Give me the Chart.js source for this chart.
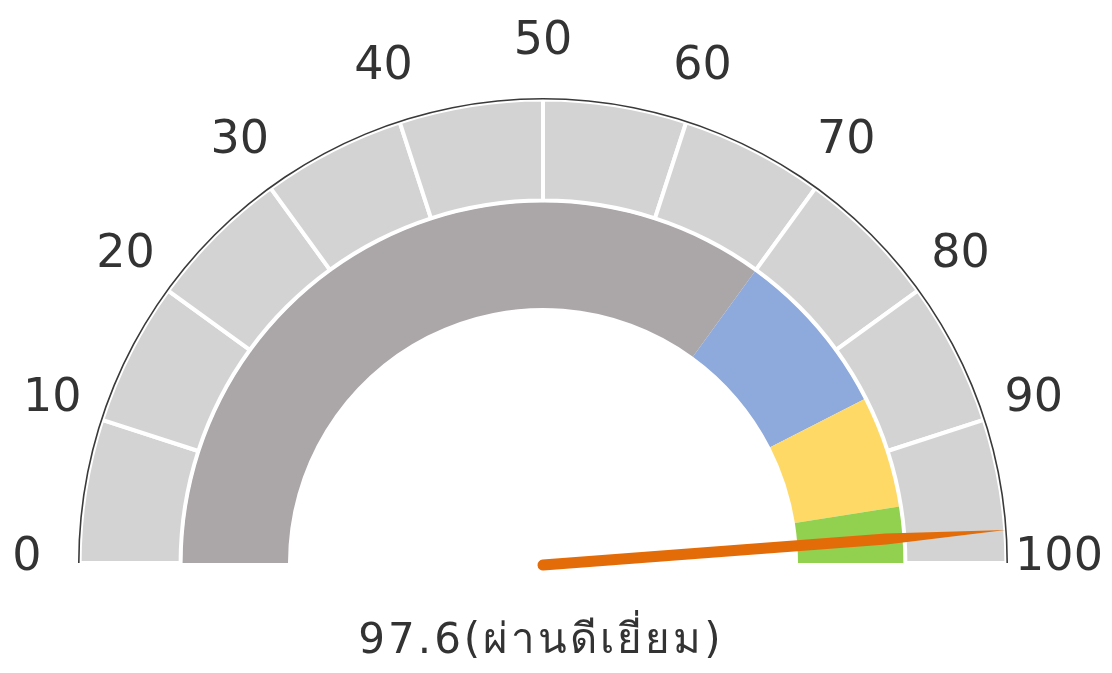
<!DOCTYPE html>
<html>
<head>
<meta charset="utf-8">
<script src="https://cdn.jsdelivr.net/npm/chart.js@4"></script>
<style>
  body { margin: 0; background: #fff; }
  #wrap { width: 1112px; height: 673px; position: relative; }
</style>
</head>
<body>
<div id="wrap"><canvas id="gauge"></canvas></div>
<script>
const tickLabels = ['0', '10', '20', '30', '40', '50', '60', '70', '80', '90', '100']
const scaleSteps = [10, 10, 10, 10, 10, 10, 10, 10, 10, 10]
const bandValues = [70, 15, 10, 5]
const bandColors = ['#ABA7A8', '#8EA9DB', '#FFD966', '#92D050']
const needleValue = 97.6
const maxValue = 100
const resultText = '97.6(ผ่านดีเยี่ยม)'

const textColor = '#333333'
const fontFamily = '"DejaVu Sans", "Noto Sans", sans-serif'

// value -> canvas angle (left = -PI, right = 0)
const toAngle = (v) => -Math.PI + (v / maxValue) * Math.PI

const gaugeExtras = {
    id: 'gaugeExtras',
    afterDatasetsDraw(chart) {
        const ctx = chart.ctx
        const arc = chart.getDatasetMeta(0).data[0]
        const cx = arc.x
        const cy = arc.y
        const outer = arc.outerRadius

        ctx.save()

        //etiquetas de la escala
        ctx.fillStyle = textColor
        ctx.font = '46px ' + fontFamily
        ctx.textAlign = 'center'
        ctx.textBaseline = 'alphabetic'
        const labelR = outer + 51
        tickLabels.forEach((lbl, i) => {
            const a = toAngle(i * maxValue / (tickLabels.length - 1))
            const x = cx + labelR * Math.cos(a)
            const y = cy - 10 + labelR * Math.sin(a)
            ctx.fillText(lbl, x, y + 17)
        })

        //aguja
        const a = toAngle(needleValue)
        const ux = Math.cos(a), uy = Math.sin(a)
        const nx = -uy, ny = ux
        const half = 5.5
        const taperR = outer * 0.74
        const tipR = outer - 1
        const bx = cx, by = cy + 2
        ctx.fillStyle = '#E36C09'
        ctx.beginPath()
        ctx.moveTo(bx + nx * half, by + ny * half)
        ctx.lineTo(bx + ux * taperR + nx * half, by + uy * taperR + ny * half)
        ctx.lineTo(bx + ux * tipR, by + uy * tipR)
        ctx.lineTo(bx + ux * taperR - nx * half, by + uy * taperR - ny * half)
        ctx.lineTo(bx - nx * half, by - ny * half)
        ctx.arc(bx, by, half, a - Math.PI / 2, a + Math.PI / 2, true)
        ctx.closePath()
        ctx.fill()

        //texto del resultado
        ctx.fillStyle = textColor
        ctx.font = '42px ' + fontFamily
        ctx.letterSpacing = '3px'
        ctx.textAlign = 'center'
        ctx.fillText(resultText, 541, 653)

        ctx.restore()
    }
}

const ctx = document.getElementById('gauge')

new Chart(ctx, {
    type: 'doughnut',
    data: {
        labels: tickLabels.slice(1),
        datasets: [
            {
                // thin outline
                data: [maxValue],
                backgroundColor: ['#3A3A3A'],
                borderWidth: 0,
                weight: 1.6
            },
            {
                data: scaleSteps,
                backgroundColor: '#D3D3D3',
                borderColor: '#FFFFFF',
                borderWidth: 4,
                weight: 101
            },
            {
                // spacer
                data: [maxValue],
                backgroundColor: ['rgba(0,0,0,0)'],
                borderWidth: 0,
                weight: 1.4
            },
            {
                data: bandValues,
                backgroundColor: bandColors,
                borderWidth: 0,
                weight: 106
            }
        ]
    },
    options: {
        responsive: true,
        maintainAspectRatio: false,
        animation: false,
        rotation: -90,
        circumference: 180,
        cutout: '54.84%',
        layout: {
            padding: { left: 78, right: 104, top: 98, bottom: 110 }
        },
        plugins: {
            legend: { display: false },
            tooltip: { enabled: false }
        },
        events: []
    },
    plugins: [gaugeExtras]
})
</script>
</body>
</html>
